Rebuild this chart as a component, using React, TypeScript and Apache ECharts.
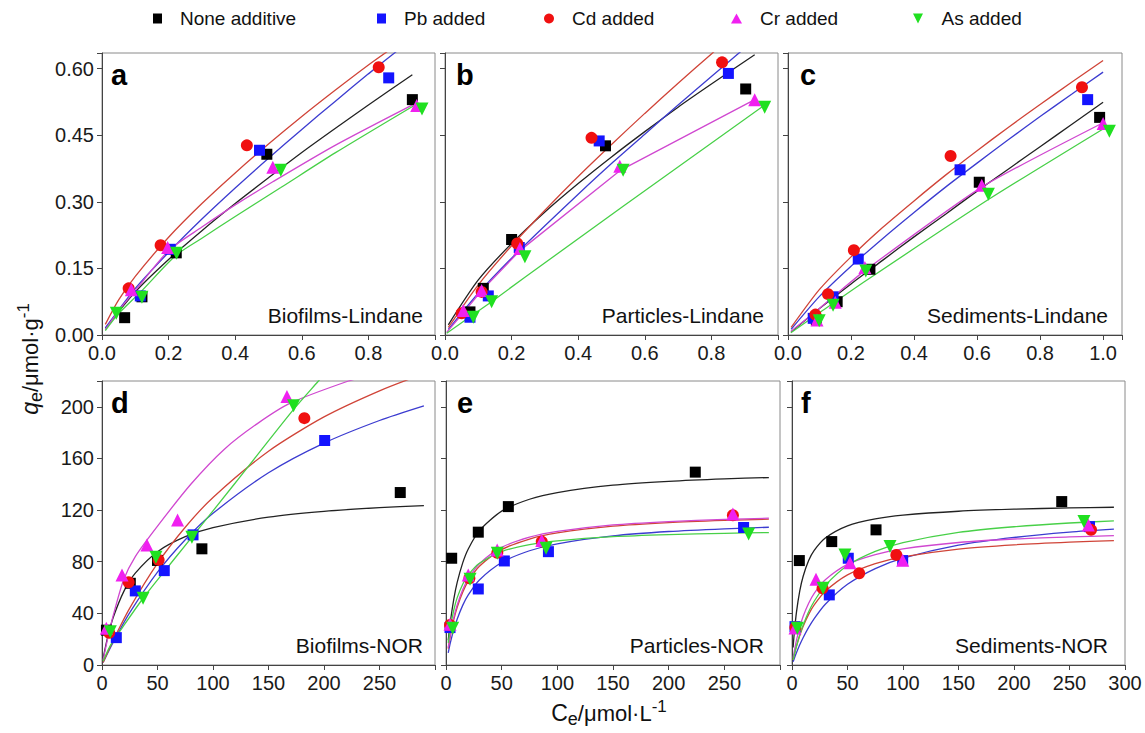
import React, { useEffect, useRef } from 'react';
import * as echarts from 'echarts';

const FONT = 'Liberation Sans, Arial, sans-serif';

const seriesNames = ['None additive', 'Pb added', 'Cd added', 'Cr added', 'As added'];
const pointColors = ['#000000', '#1414ff', '#f01010', '#f020f0', '#20e020'];
const lineColors = ['#222222', '#3c3cd0', '#d04438', '#d048d0', '#48d048'];
const pointSymbols = ['rect', 'rect', 'circle', 'triangle', 'triangle'];
const pointRotates = [0, 0, 0, 0, 180];
const pointSizes = [11, 11, 12, 13, 13];
const legendIcons = ['rect', 'rect', 'circle', 'triangle', 'path://M0,0L10,0L5,10Z'];
const legendLefts = [153, 377, 544, 731, 913];

const panelLetters = ['a', 'b', 'c', 'd', 'e', 'f'];
const panelTitles = ['Biofilms-Lindane', 'Particles-Lindane', 'Sediments-Lindane', 'Biofilms-NOR', 'Particles-NOR', 'Sediments-NOR'];

// axis ranges / tick labels
const topXMax = [1.0, 1.0, 1.06];
const topXLabelMax = [0.8, 0.8, 1.0];
const topXStep = 0.2;
const topYMax = 0.635;
const topYStep = 0.15;
const topYLabelMax = 0.6;
const botXMax = 300;
const botXStep = 50;
const botXLabelMax = [250, 250, 300];
const botYMax = 220;
const botYStep = 40;
const botYLabelMax = 200;

// ---------- panel a : Biofilms-Lindane ----------
const aNone = [[0.068, 0.039], [0.12, 0.086], [0.223, 0.185], [0.495, 0.407], [0.932, 0.530]];
const aPb = [[0.115, 0.088], [0.205, 0.193], [0.473, 0.416], [0.861, 0.579]];
const aCd = [[0.08, 0.105], [0.176, 0.202], [0.435, 0.427], [0.831, 0.603]];
const aCr = [[0.088, 0.102], [0.197, 0.197], [0.513, 0.378], [0.945, 0.517]];
const aAs = [[0.043, 0.049], [0.12, 0.085], [0.224, 0.184], [0.537, 0.371], [0.961, 0.509]];
const aFitNone = [[0.01, 0.015], [0.1, 0.097], [0.2, 0.17], [0.3, 0.235], [0.4, 0.296], [0.5, 0.354], [0.6, 0.411], [0.7, 0.465], [0.8, 0.518], [0.932, 0.586]];
const aFitPb = [[0.01, 0.016], [0.1, 0.105], [0.2, 0.186], [0.3, 0.261], [0.4, 0.331], [0.5, 0.398], [0.6, 0.463], [0.7, 0.526], [0.8, 0.588], [0.9, 0.648]];
const aFitCd = [[0.01, 0.024], [0.05, 0.079], [0.1, 0.132], [0.2, 0.22], [0.3, 0.296], [0.4, 0.365], [0.5, 0.43], [0.6, 0.492], [0.7, 0.551], [0.8, 0.608], [0.86, 0.64]];
const aFitCr = [[0.01, 0.012], [0.05, 0.055], [0.1, 0.1], [0.2, 0.19], [0.3, 0.243], [0.4, 0.293], [0.513, 0.345], [0.7, 0.427], [0.94, 0.521]];
const aFitAs = [[0.01, 0.01], [0.05, 0.048], [0.12, 0.1], [0.223, 0.18], [0.3, 0.218], [0.4, 0.267], [0.537, 0.332], [0.7, 0.41], [0.94, 0.518]];

// ---------- panel b : Particles-Lindane ----------
const bNone = [[0.075, 0.052], [0.115, 0.105], [0.2, 0.215], [0.482, 0.426], [0.903, 0.554]];
const bPb = [[0.075, 0.040], [0.13, 0.088], [0.223, 0.197], [0.463, 0.437], [0.851, 0.589]];
const bCd = [[0.05, 0.049], [0.11, 0.097], [0.217, 0.206], [0.44, 0.444], [0.832, 0.614]];
const bCr = [[0.055, 0.055], [0.11, 0.10], [0.225, 0.195], [0.525, 0.38], [0.93, 0.53]];
const bAs = [[0.085, 0.040], [0.14, 0.075], [0.24, 0.176], [0.535, 0.371], [0.96, 0.513]];
const bFitNone = [[0.01, 0.023], [0.1, 0.124], [0.2, 0.206], [0.3, 0.277], [0.4, 0.341], [0.5, 0.401], [0.6, 0.458], [0.7, 0.513], [0.8, 0.565], [0.93, 0.631]];
const bFitPb = [[0.01, 0.0125], [0.1, 0.094], [0.2, 0.173], [0.3, 0.246], [0.4, 0.317], [0.5, 0.386], [0.6, 0.452], [0.7, 0.518], [0.8, 0.582], [0.9, 0.646]];
const bFitCd = [[0.01, 0.017], [0.1, 0.113], [0.2, 0.201], [0.3, 0.281], [0.4, 0.357], [0.5, 0.429], [0.6, 0.499], [0.7, 0.567], [0.8, 0.633], [0.82, 0.646]];
const bFitCr = [[0.005, 0.006], [0.055, 0.05], [0.11, 0.1], [0.225, 0.19], [0.525, 0.37], [0.93, 0.53]];
const bFitAs = [[0.005, 0.004], [0.085, 0.046], [0.14, 0.075], [0.24, 0.13], [0.535, 0.29], [0.96, 0.518]];

// ---------- panel c : Sediments-Lindane ----------
const cNone = [[0.09, 0.034], [0.156, 0.075], [0.26, 0.148], [0.607, 0.344], [0.989, 0.49]];
const cPb = [[0.08, 0.0375], [0.143, 0.086], [0.223, 0.171], [0.546, 0.372], [0.951, 0.530]];
const cCd = [[0.087, 0.046], [0.127, 0.092], [0.209, 0.191], [0.516, 0.403], [0.933, 0.558]];
const cCr = [[0.092, 0.034], [0.15, 0.074], [0.244, 0.152], [0.615, 0.337], [1.0, 0.476]];
const cAs = [[0.099, 0.032], [0.143, 0.067], [0.247, 0.144], [0.636, 0.317], [1.02, 0.459]];
const cFitNone = [[0.01, 0.0068], [0.1, 0.0596], [0.2, 0.115], [0.3, 0.168], [0.4, 0.221], [0.5, 0.272], [0.6, 0.324], [0.7, 0.374], [0.8, 0.424], [0.9, 0.474], [1.0, 0.524]];
const cFitPb = [[0.01, 0.0129], [0.1, 0.087], [0.2, 0.155], [0.3, 0.217], [0.4, 0.276], [0.5, 0.333], [0.6, 0.387], [0.7, 0.44], [0.8, 0.492], [0.9, 0.542], [1.0, 0.592]];
const cFitCd = [[0.01, 0.017], [0.1, 0.1026], [0.2, 0.176], [0.3, 0.242], [0.4, 0.302], [0.5, 0.36], [0.6, 0.415], [0.7, 0.468], [0.8, 0.519], [0.9, 0.569], [1.0, 0.618]];
const cFitCr = [[0.009, 0.008], [0.092, 0.055], [0.15, 0.09], [0.244, 0.145], [0.615, 0.333], [1.0, 0.478]];
const cFitAs = [[0.009, 0.005], [0.1, 0.05], [0.247, 0.122], [0.636, 0.305], [1.0, 0.464]];

// ---------- panel d : Biofilms-NOR ----------
const dNone = [[4, 27], [25.5, 63.3], [50, 81], [90, 90], [268.7, 133.6]];
const dPb = [[12.9, 21.2], [30, 57.4], [56.1, 73.1], [82, 100.8], [200.6, 173.9]];
const dCd = [[6.5, 25], [24, 64.1], [51, 81.4], [182.3, 191.2]];
const dCr = [[3.9, 28.4], [18, 69.8], [40.5, 93], [68.1, 112.4], [166.6, 208]];
const dAs = [[7.5, 25.8], [37, 51.7], [48.6, 83.5], [81, 99], [172.6, 200.8]];
const dFitNone = [[1, 4.8], [2, 9.4], [5, 21.2], [10, 36.6], [20, 57.6], [30, 71.2], [50, 87.8], [75, 99.4], [100, 106.4], [150, 114.5], [200, 119], [250, 121.9], [290, 123.5]];
const dFitPb = [[1, 1.9], [2, 3.7], [10, 17.5], [25, 40.5], [50, 71.9], [75, 97], [100, 117.5], [150, 148.9], [200, 171.9], [250, 189.4], [290, 200.7]];
const dFitCd = [[1, 2], [2, 3.96], [10, 19], [25, 44.1], [50, 78.7], [75, 106.7], [100, 129.8], [150, 165.6], [200, 192.2], [250, 212.4], [290, 225.7]];
const dFitCr = [[1, 4], [2, 8], [5, 20], [10, 38], [19.5, 66], [30, 84], [49.5, 107], [80, 140], [110, 167], [140, 187], [170, 203], [222, 220], [240, 224]];
const dFitAs = [[1, 3], [2, 5], [7.5, 15], [20, 31], [37, 51.7], [50, 66], [81, 99], [120, 141], [172.6, 198], [195, 220], [200, 225]];

// ---------- panel e : Particles-NOR ----------
const eNone = [[5.1, 82.7], [29, 102.9], [56, 122.7], [223.9, 149.4]];
const ePb = [[3.6, 29], [29, 58.9], [52.4, 80.6], [92, 87.8], [267.3, 106.5]];
const eCd = [[3.6, 31], [21, 67.2], [46.1, 87], [86, 95.6], [257.7, 116]];
const eCr = [[3.6, 31.6], [20, 69.8], [46, 89], [86, 96.4], [257.7, 117]];
const eAs = [[6, 28.4], [21.6, 66.4], [46.1, 86.6], [89.9, 90.5], [271.8, 101.5]];
const eFitNone = [[2, 19.2], [4, 34.1], [7, 51.1], [10, 63.8], [15, 79.1], [20, 89.9], [30, 104.1], [50, 119.2], [75, 128.4], [100, 133.6], [150, 139.3], [200, 142.3], [250, 144.2], [290, 145.2]];
const eFitPb = [[2, 9.4], [4, 17.5], [7, 27.4], [10, 35.5], [15, 46.2], [20, 54.3], [30, 65.9], [50, 79.4], [75, 88.5], [100, 93.9], [150, 100], [200, 103.4], [250, 105.5], [290, 106.7]];
const eFitCd = [[2, 12.7], [4, 22.9], [7, 35.1], [10, 44.5], [15, 56.3], [20, 64.9], [30, 76.5], [50, 89.4], [75, 97.6], [100, 102.3], [150, 107.5], [200, 110.3], [250, 112], [290, 113]];
const eFitCr = [[2, 13.5], [4, 24.2], [7, 36.8], [10, 46.4], [15, 58.3], [20, 66.9], [30, 78.5], [50, 91.1], [75, 99], [100, 103.5], [150, 108.5], [200, 111.1], [250, 112.8], [290, 113.7]];
const eFitAs = [[2, 17.1], [4, 29.4], [7, 42.6], [10, 52], [15, 62.6], [20, 69.8], [30, 78.8], [50, 87.9], [75, 93.3], [100, 96.2], [150, 99.4], [200, 101], [250, 102], [290, 102.6]];

// ---------- panel f : Sediments-NOR ----------
const fNone = [[6.6, 80.9], [35.8, 95.6], [75.7, 104.7], [243, 126.6]];
const fPb = [[2.7, 29.7], [33.6, 54.3], [50.7, 82.7], [99.7, 80.9], [268, 107.2]];
const fCd = [[3, 29], [27.5, 59.5], [60.5, 71.1], [94, 85.3], [269.4, 104.7]];
const fCr = [[2.7, 28.6], [21.6, 66.4], [52.3, 79.3], [99.7, 81.2], [267, 108.5]];
const fAs = [[4.8, 28.4], [28, 59.5], [47.7, 85.3], [88.3, 91.7], [263, 111.1]];
const fFitNone = [[1, 13.5], [2, 24.4], [4, 40.8], [7, 57.4], [10, 68.6], [15, 80.9], [20, 88.8], [30, 98.4], [50, 107.8], [75, 113.2], [100, 116.1], [150, 119.1], [200, 120.7], [250, 121.7], [290, 122.2]];
const fFitPb = [[1, 2.5], [2, 4.9], [4, 9.4], [7, 15.6], [10, 21.1], [15, 29.1], [20, 36], [30, 47.1], [50, 62.5], [75, 74.7], [100, 82.8], [150, 92.8], [200, 98.8], [250, 102.9], [290, 105.2]];
const fFitCd = [[1, 4], [2, 7.7], [4, 14.4], [7, 22.9], [10, 29.9], [15, 39.2], [20, 46.5], [30, 57.1], [50, 69.8], [75, 78.6], [100, 83.8], [150, 89.8], [200, 93.1], [250, 95.2], [290, 96.4]];
const fFitCr = [[1, 5.5], [2, 10.4], [4, 19], [7, 29.3], [10, 37.5], [15, 47.8], [20, 55.5], [30, 66], [50, 77.9], [75, 85.5], [100, 90], [150, 94.9], [200, 97.6], [250, 99.2], [290, 100.2]];
const fFitAs = [[1, 4], [2, 7.7], [4, 14.5], [7, 23.4], [10, 30.9], [15, 41.2], [20, 49.4], [30, 61.7], [50, 77.1], [75, 88], [100, 94.8], [150, 102.7], [200, 107.1], [250, 110], [290, 111.6]];

const panelPoints = [
  [aNone, aPb, aCd, aCr, aAs],
  [bNone, bPb, bCd, bCr, bAs],
  [cNone, cPb, cCd, cCr, cAs],
  [dNone, dPb, dCd, dCr, dAs],
  [eNone, ePb, eCd, eCr, eAs],
  [fNone, fPb, fCd, fCr, fAs],
];
const panelFits = [
  [aFitNone, aFitPb, aFitCd, aFitCr, aFitAs],
  [bFitNone, bFitPb, bFitCd, bFitCr, bFitAs],
  [cFitNone, cFitPb, cFitCd, cFitCr, cFitAs],
  [dFitNone, dFitPb, dFitCd, dFitCr, dFitAs],
  [eFitNone, eFitPb, eFitCd, eFitCr, eFitAs],
  [fFitNone, fFitPb, fFitCd, fFitCr, fFitAs],
];
// 0 = straight segments between fitted points
const panelSmooth = [
  [0.25, 0.25, 0.25, 0.25, 0.25],
  [0.25, 0.25, 0.25, 0, 0],
  [0.25, 0.25, 0.25, 0.2, 0.2],
  [0.25, 0.25, 0.25, 0.25, 0.25],
  [0.25, 0.25, 0.25, 0.25, 0.25],
  [0.25, 0.25, 0.25, 0.25, 0.25],
];

const grids = [
  { left: 102, top: 53, width: 333, height: 282 },
  { left: 445, top: 53, width: 333, height: 282 },
  { left: 788, top: 53, width: 334, height: 282 },
  { left: 102, top: 381, width: 333, height: 284 },
  { left: 446, top: 381, width: 334, height: 284 },
  { left: 792, top: 381, width: 333, height: 284 },
];
const letterOffsets = [9, 11, 12, 9, 11, 9];
const titleRights = [423, 764, 1108, 423, 764, 1108];

const makeFmt = (step: number, labelMax: number, dec: number) => (v: number) => {
  const r = Math.round(v / step);
  if (Math.abs(v - r * step) > 1e-6 || v > labelMax + 1e-9) return '';
  return v.toFixed(dec);
};

const axisColor = '#444';
const baseAxis = {
  axisLine: { show: true, onZero: false, lineStyle: { color: axisColor, width: 1 } },
  axisTick: { show: true, inside: false, length: 5, lineStyle: { color: axisColor } },
  splitLine: { show: false },
};
const labelStyle = { color: '#1a1a1a', fontSize: 20, fontFamily: FONT, margin: 8 };

export default function App() {
  const ref = useRef<HTMLDivElement>(null);
  useEffect(() => {
    if (!ref.current) return;
    const chart = echarts.init(ref.current, undefined, { renderer: 'svg' });

    const xAxis: any[] = [];
    const yAxis: any[] = [];
    for (let p = 0; p < 6; p++) {
      const top = p < 3;
      const col = p % 3;
      xAxis.push({
        ...baseAxis,
        type: 'value',
        gridIndex: p,
        min: 0,
        max: top ? topXMax[col] : botXMax,
        interval: top ? topXStep : botXStep,
        axisLabel: {
          ...labelStyle,
          formatter: top ? makeFmt(topXStep, topXLabelMax[col], 1) : makeFmt(botXStep, botXLabelMax[col], 0),
        },
      });
      yAxis.push({
        ...baseAxis,
        type: 'value',
        gridIndex: p,
        min: 0,
        max: top ? topYMax : botYMax,
        interval: top ? topYStep : botYStep,
        axisLabel: {
          ...labelStyle,
          show: col === 0,
          formatter: top ? makeFmt(topYStep, topYLabelMax, 2) : makeFmt(botYStep, botYLabelMax, 0),
        },
      });
    }

    const series: any[] = [];
    for (let p = 0; p < 6; p++) {
      for (let k = 0; k < 5; k++) {
        const sm = panelSmooth[p][k];
        series.push({
          type: 'line',
          name: seriesNames[k] + ' fit ' + panelLetters[p],
          xAxisIndex: p,
          yAxisIndex: p,
          data: panelFits[p][k],
          showSymbol: false,
          symbol: 'none',
          smooth: sm === 0 ? false : sm,
          clip: true,
          silent: true,
          z: 2,
          lineStyle: { color: lineColors[k], width: 1.3 },
        });
      }
      for (let k = 0; k < 5; k++) {
        series.push({
          type: 'scatter',
          name: seriesNames[k],
          xAxisIndex: p,
          yAxisIndex: p,
          data: panelPoints[p][k],
          symbol: pointSymbols[k],
          symbolSize: pointSizes[k],
          symbolRotate: pointRotates[k],
          itemStyle: { color: pointColors[k], opacity: 1 },
          z: 3,
          silent: true,
        });
      }
    }

    const legend = seriesNames.map((n, k) => ({
      data: [{ name: n, icon: legendIcons[k] }],
      left: legendLefts[k],
      top: 9,
      padding: 0,
      itemWidth: k === 2 ? 10 : k >= 3 ? 11 : 9,
      itemHeight: 10,
      selectedMode: false,
      textStyle: { fontSize: 19, fontFamily: FONT, color: '#111', padding: [0, 0, 0, 13] },
    }));

    const graphic: any[] = [];
    for (let p = 0; p < 6; p++) {
      const g = grids[p];
      graphic.push({
        type: 'text',
        x: g.left + letterOffsets[p],
        y: g.top + 22,
        silent: true,
        style: {
          text: panelLetters[p],
          fontSize: 29,
          fontWeight: 'bold',
          fontFamily: FONT,
          fill: '#000',
          align: 'left',
          textAlign: 'left',
          verticalAlign: 'middle',
          textVerticalAlign: 'middle',
        },
      });
      graphic.push({
        type: 'text',
        x: titleRights[p],
        y: g.top + g.height - 20,
        silent: true,
        style: {
          text: panelTitles[p],
          fontSize: 21,
          fontFamily: FONT,
          fill: '#111',
          align: 'right',
          textAlign: 'right',
          verticalAlign: 'middle',
          textVerticalAlign: 'middle',
        },
      });
    }
    const titleRich = {
      q: { fontSize: 23, fontStyle: 'italic', fontFamily: FONT, fill: '#111', lineHeight: 30, verticalAlign: 'middle' },
      c: { fontSize: 23, fontFamily: FONT, fill: '#111', lineHeight: 30, verticalAlign: 'middle' },
      n: { fontSize: 22, fontFamily: FONT, fill: '#111', lineHeight: 30, verticalAlign: 'middle' },
      sub: { fontSize: 18, fontFamily: FONT, fill: '#111', lineHeight: 16, verticalAlign: 'bottom' },
      sup: { fontSize: 17, fontFamily: FONT, fill: '#111', lineHeight: 16, verticalAlign: 'top' },
    };
    graphic.push({
      type: 'text',
      x: 30,
      y: 359,
      rotation: Math.PI / 2,
      silent: true,
      style: {
        text: '{q|q}{sub|e}{n|/μmol·g}{sup|-1}',
        rich: titleRich,
        align: 'center',
        textAlign: 'center',
        verticalAlign: 'middle',
        textVerticalAlign: 'middle',
      },
    });
    graphic.push({
      type: 'text',
      x: 609,
      y: 713,
      silent: true,
      style: {
        text: '{c|C}{sub|e}{n|/μmol·L}{sup|-1}',
        rich: titleRich,
        align: 'center',
        textAlign: 'center',
        verticalAlign: 'middle',
        textVerticalAlign: 'middle',
      },
    });

    chart.setOption({
      animation: false,
      backgroundColor: '#ffffff',
      grid: grids.map((g) => ({ ...g, show: true, borderColor: '#8a8a8a', borderWidth: 1, backgroundColor: 'transparent' })),
      xAxis,
      yAxis,
      legend,
      series,
      graphic,
    });
    return () => chart.dispose();
  }, []);

  return <div ref={ref} style={{ position: 'absolute', left: 0, top: 0, width: 1145, height: 733, background: '#fff' }} />;
}
